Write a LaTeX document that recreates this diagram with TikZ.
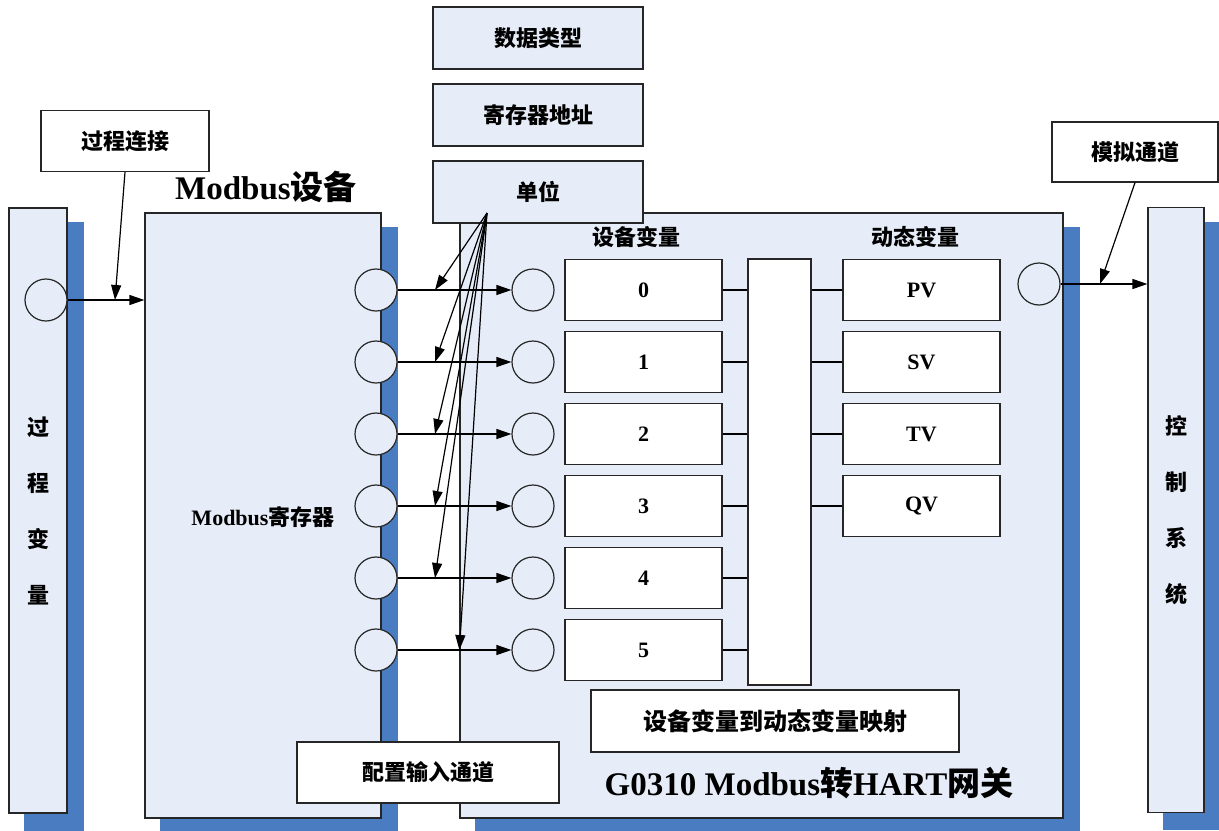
\documentclass[tikz,border=0pt]{standalone}
\usepackage{fontspec}
\setmainfont{Liberation Serif}
\newfontfamily\cjk{Noto Sans CJK SC}
\usepackage{tikz}
\usetikzlibrary{arrows.meta, backgrounds, positioning}
\definecolor{boxblue}{RGB}{231,237,248}
\definecolor{shadeblue}{RGB}{74,124,193}
\newcommand{\zh}[1]{{\cjk\bfseries #1}}
\tikzset{>={Triangle[length=7.5pt,width=5pt]}}

\begin{document}
\begin{tikzpicture}[x=0.5pt, y=-0.5pt, line width=0.6pt, font=\bfseries\fontsize{11}{13}\selectfont,
	box/.style={draw=black!85, fill=boxblue, inner sep=0pt},
	wbox/.style={draw=black!85, fill=white, inner sep=0pt},
	port/.style={circle, draw=black!85, fill=boxblue, minimum size=21pt, inner sep=0pt},
	bar/.style={box, minimum width=29pt, minimum height=302.5pt, align=center, font=\cjk\bfseries\fontsize{11}{28}\selectfont},
	title/.style={font=\bfseries\fontsize{16.5}{18}\selectfont}]
		\useasboundingbox (0,0) rectangle (1219,830);
		
		% the four big blocks
		\node [bar] (procbar) at (38,510.5) {过\\程\\变\\量};
		\node [bar, minimum width=28pt] (ctrlbar) at (1176,510) {控\\制\\系\\统};
		\node [box, minimum width=118pt, minimum height=302.5pt] (modbus) at (263,515.5) {};
		\node [box, minimum width=301.5pt, minimum height=302.5pt] (gw) at (761.5,515.5) {};
		\begin{scope}[on background layer]
			\foreach \b in {procbar, modbus, gw, ctrlbar}
				\fill [shadeblue] ([shift={(16,15)}]\b.north west) rectangle ([shift={(16,17)}]\b.south east);
		\end{scope}
		
		% titles
		\node [title] (mbtitle) at (266,187) {Modbus\zh{设备}};
		\node [title] (gwtitle) at (809,783) {G0310 Modbus\zh{转}HART\zh{网关}};
		\node (regtext) at (263,517) {Modbus\zh{寄存器}};
		\node (dvtitle) at (636,237) {\zh{设备变量}};
		\node (dyntitle) at (915,237) {\zh{动态变量}};
		
		% configuration boxes
		\foreach \n/\y/\t in {dtype/38/数据类型, addr/115/寄存器地址, unit/192/单位}
			\node [box, minimum width=105pt, minimum height=31pt] (\n) at (538,\y) {\zh{\t}};
		\node [wbox, minimum width=84pt, minimum height=30.5pt] (conn) at (125,141) {\zh{过程连接}};
		\node [wbox, minimum width=83pt, minimum height=30pt] (analog) at (1135,152) {\zh{模拟通道}};
		
		% registers, device variables
		\node [wbox, minimum width=31.5pt, minimum height=213pt] (map) at (779.5,472) {};
		\foreach \i in {0,...,5} {
			\node [port] (reg\i) at (376,290+72*\i) {};
			\node [port] (dv\i) at (533,290+72*\i) {};
			\node [wbox, minimum width=78.5pt, minimum height=30.5pt] (dev\i) at (643.5,290+72*\i) {\i};
			\draw [->] (reg\i) -- (dv\i);
			\draw (dev\i.east) -- (dev\i.east -| map.west);
		}
		\foreach \i/\t in {0/PV, 1/SV, 2/TV, 3/QV} {
			\node [wbox, minimum width=78.5pt, minimum height=30.5pt] (dyn\i) at (921.5,290+72*\i) {\t};
			\draw (dyn\i.west -| map.east) -- (dyn\i.west);
		}
		
		% unit -> registers
		\coordinate (fan) at (487,213);
		\foreach \i in {0,...,4}
			\coordinate (hit\i) at (435,290+72*\i);
		\coordinate (hit5) at (gw.west |- reg5);
		\foreach \i in {0,...,5}
			\draw [->] (fan) -- (hit\i);
		
		\node [wbox, minimum width=184pt, minimum height=31pt, font=\fontsize{12}{14}\selectfont] (mapping) at (775,721) {\zh{设备变量到动态变量映射}};
		\node [wbox, minimum width=131pt, minimum height=30.5pt] (config) at (428,772.5) {\zh{配置输入通道}};
		
		% process side and control side
		\node [port] (procport) at (46,300) {};
		\node [port] (outport) at (1039,284) {};
		\coordinate (procin) at (115,300);
		\coordinate (ctrlin) at (1100,284);
		\draw [->] (procport) -- (procport -| modbus.west);
		\draw [->] (conn.south) -- (procin);
		\draw [->] (outport) -- (outport -| ctrlbar.west);
		\draw [->] (analog.south) -- (ctrlin);
\end{tikzpicture}
\end{document}
